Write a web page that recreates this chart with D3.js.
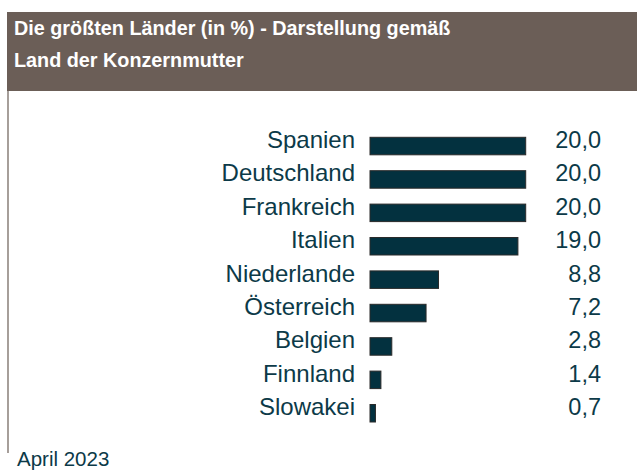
<!DOCTYPE html>
<html>
<head>
<meta charset="utf-8">
<script src="https://cdn.jsdelivr.net/npm/d3@7"></script>
<style>
  body { margin: 0; background: #fff; }
  svg { display: block; font-family: "Liberation Sans", Arial, sans-serif; }
</style>
</head>
<body>
<svg id="chart" width="637" height="471"></svg>
<script>
// Daten
var countries = ["Spanien", "Deutschland", "Frankreich", "Italien", "Niederlande",
                 "Österreich", "Belgien", "Finnland", "Slowakei"];
var shares = [20.0, 20.0, 20.0, 19.0, 8.8, 7.2, 2.8, 1.4, 0.7];
var titleLines = ["Die größten Länder (in %) - Darstellung gemäß", "Land der Konzernmutter"];
var footnote = "April 2023";

var svg = d3.select("#chart");
var brown = "#6b5e57";
var textCol = "#0c3a48";

// Kopfzeile
svg.append("rect")
    .attr("x", 7).attr("y", 12)
    .attr("width", 630).attr("height", 79)
    .attr("fill", brown);

svg.selectAll("text.title")
    .data(titleLines)
    .enter().append("text")
    .attr("class", "title")
    .attr("x", 14)
    .attr("y", function(d, i){ return 35 + i * 32; })
    .attr("fill", "#fff")
    .style("font-size", "19.8px")
    .style("font-weight", "bold")
    .text(function(d){ return d; });

// linke Randlinie
svg.append("line")
    .attr("x1", 8).attr("x2", 8)
    .attr("y1", 91).attr("y2", 453)
    .attr("stroke", brown)
    .attr("stroke-width", 1.2);

// Skalen
var x = d3.scaleLinear().domain([0, 20]).range([370, 525.7]);
var y = d3.scaleBand()
    .domain(countries)
    .range([129.35, 429.95])
    .paddingInner(0.476)
    .paddingOuter(0.238);

var rows = countries.map(function(c, i){ return { name: c, value: shares[i] }; });

svg.selectAll("rect.bar")
    .data(rows)
    .enter().append("rect")
    .attr("class", "bar")
    .attr("x", x(0))
    .attr("y", function(d){ return y(d.name); })
    .attr("width", function(d){ return x(d.value) - x(0); })
    .attr("height", y.bandwidth())
    .attr("fill", "#03313f")
    .attr("stroke", "#2a2a2a")
    .attr("stroke-width", 1);

svg.selectAll("text.label")
    .data(rows)
    .enter().append("text")
    .attr("class", "label")
    .attr("x", 355)
    .attr("y", function(d){ return y(d.name) + y.bandwidth() / 2 + 2; })
    .attr("text-anchor", "end")
    .attr("fill", textCol)
    .style("font-size", "24px")
    .text(function(d){ return d.name; });

var fmt = function(v){ return d3.format(".1f")(v).replace(".", ","); };

svg.selectAll("text.value")
    .data(rows)
    .enter().append("text")
    .attr("class", "value")
    .attr("x", 601)
    .attr("y", function(d){ return y(d.name) + y.bandwidth() / 2 + 2; })
    .attr("text-anchor", "end")
    .attr("fill", textCol)
    .style("font-size", "23.5px")
    .text(function(d){ return fmt(d.value); });

// Fußnote
svg.append("text")
    .attr("x", 17).attr("y", 466)
    .attr("fill", textCol)
    .style("font-size", "20.5px")
    .text(footnote);
</script>
</body>
</html>
